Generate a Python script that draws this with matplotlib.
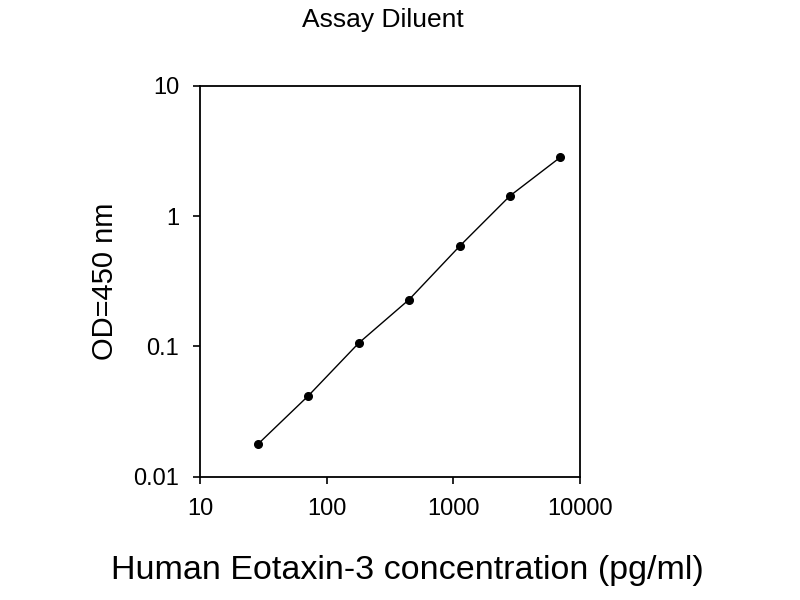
import matplotlib
matplotlib.use('Agg')
import matplotlib.pyplot as plt
from matplotlib.ticker import FixedLocator, FixedFormatter, NullLocator

plt.rcParams['font.family'] = ['Liberation Sans', 'DejaVu Sans']

# standard curve values
conc = [28.7, 71.7, 179, 448, 1120, 2800, 7000]
od = [0.0178, 0.0418, 0.106, 0.229, 0.587, 1.43, 2.83]

x_ticks = [10, 100, 1000, 10000]
x_labels = ['10', '100', '1000', '10000']
y_ticks = [0.01, 0.1, 1, 10]
y_labels = ['0.01', '0.1', '1', '10']

fig = plt.figure(figsize=(8, 6), dpi=100)
ax = fig.add_axes([0.25, 0.2055, 0.475, 0.6515])

ax.plot(conc, od, color='black', linewidth=1.0, marker='o', markersize=5.5)

ax.set_xscale('log')
ax.set_yscale('log')
ax.set_xlim(10, 10000)
ax.set_ylim(0.01, 10)

ax.xaxis.set_major_locator(FixedLocator(x_ticks))
ax.xaxis.set_major_formatter(FixedFormatter(x_labels))
ax.yaxis.set_major_locator(FixedLocator(y_ticks))
ax.yaxis.set_major_formatter(FixedFormatter(y_labels))
ax.xaxis.set_minor_locator(NullLocator())
ax.yaxis.set_minor_locator(NullLocator())

ax.tick_params(axis='both', direction='out', length=5, width=1.2,
               labelsize=17, colors='black', pad=10)
for sp in ax.spines.values():
    sp.set_linewidth(1.3)

ax.set_title('Assay Diluent', fontsize=19, x=0.48, pad=42)
ax.set_ylabel('OD=450 nm', fontsize=21, labelpad=10)
ax.set_xlabel('Human Eotaxin-3 concentration (pg/ml)', fontsize=24.5)
ax.xaxis.set_label_coords(0.545, -0.2)

fig.savefig('out.png', dpi=100)
plt.close()
